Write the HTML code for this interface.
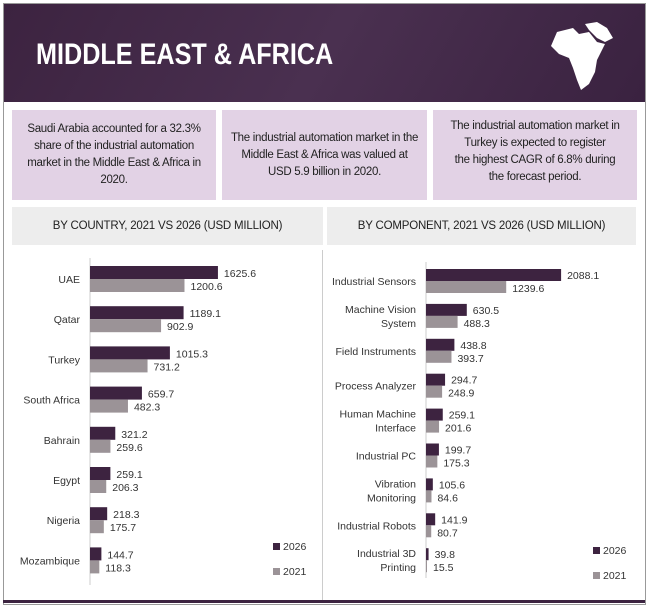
<!DOCTYPE html>
<html><head><meta charset="utf-8"><style>
body{margin:0;width:650px;height:610px;background:#fff;font-family:"Liberation Sans Narrow","Liberation Sans",sans-serif;position:relative;overflow:hidden}
.abs{position:absolute}
.box{position:absolute;top:110px;height:90px;background:#e2d2e5;display:flex;align-items:center;justify-content:center;text-align:center;font-size:11.5px;letter-spacing:-0.3px;line-height:17px;color:#222;white-space:nowrap}
.sub{position:absolute;top:207px;height:38px;background:#ededed;display:flex;align-items:center;justify-content:center;font-size:11.5px;letter-spacing:-0.2px;color:#222}
svg text{font-family:"Liberation Sans Narrow","Liberation Sans",sans-serif;font-size:10.5px;fill:#333}
</style></head><body>
<div class="abs" style="left:3px;top:3px;width:641px;height:600px;border:1px solid #999;"></div>
<div class="abs" style="left:4px;top:4px;width:641px;height:98px;background:linear-gradient(120deg,#3c2340,#4a3050 50%,#3a2240);"></div>
<div class="abs" style="left:36px;top:38px;color:#fff;font-weight:bold;font-size:30px;transform:scaleX(0.84);transform-origin:left;white-space:nowrap">MIDDLE EAST &amp; AFRICA</div>
<svg class="abs" style="left:545px;top:18px" width="72" height="78" viewBox="0 0 72 78"><path d="M12 14 L28 10 L34 16 L44 14 L52 24 L60 26 L56 34 L52 42 L50 54 L44 66 L36 72 L32 62 L28 50 L24 40 L14 36 L6 28 Z" fill="#fff"/><path d="M40 6 L52 4 L62 10 L68 20 L60 24 L52 20 L44 12 Z" fill="#fff"/></svg>
<div class="box" style="left:12px;width:204px">Saudi Arabia accounted for a 32.3%<br>share of the industrial automation<br>market in the Middle East &amp; Africa in<br>2020.</div>
<div class="box" style="left:222px;width:205px">The industrial automation market in the<br>Middle East &amp; Africa was valued at<br>USD 5.9 billion in 2020.</div>
<div class="box" style="left:433px;width:204px;align-items:flex-start;padding-top:8px;height:82px">The industrial automation market in<br>Turkey is expected to register<br>the highest CAGR of 6.8% during<br>the forecast period.</div>
<div class="sub" style="left:12px;width:311px">BY COUNTRY, 2021 VS 2026 (USD MILLION)</div>
<div class="sub" style="left:327px;width:309px">BY COMPONENT, 2021 VS 2026 (USD MILLION)</div>
<div class="abs" style="left:322px;top:250px;width:1px;height:350px;background:#ccc"></div>
<div class="abs" style="left:3px;top:600px;width:642px;height:3px;background:#3c2340"></div>
<svg class="abs" style="left:0;top:0" width="650" height="610" id="chart"></svg>
<script>
const countries=["UAE","Qatar","Turkey","South Africa","Bahrain","Egypt","Nigeria","Mozambique"];
const country2026=[1625.6,1189.1,1015.3,659.7,321.2,259.1,218.3,144.7];
const country2021=[1200.6,902.9,731.2,482.3,259.6,206.3,175.7,118.3];
const components=[["Industrial Sensors"],["Machine Vision","System"],["Field Instruments"],["Process Analyzer"],["Human Machine","Interface"],["Industrial PC"],["Vibration","Monitoring"],["Industrial Robots"],["Industrial 3D","Printing"]];
const comp2026=[2088.1,630.5,438.8,294.7,259.1,199.7,105.6,141.9,39.8];
const comp2021=[1239.6,488.3,393.7,248.9,201.6,175.3,84.6,80.7,15.5];
const svg=document.getElementById('chart');const NS="http://www.w3.org/2000/svg";
function mk(t,a){const e=document.createElementNS(NS,t);for(const k in a)e.setAttribute(k,a[k]);svg.appendChild(e);return e;}
function draw(cfg){
 const x=v=>cfg.x0+v*cfg.scale, y=i=>cfg.y0+i*cfg.step;
 const ax=mk('line',{x1:cfg.x0,x2:cfg.x0,y1:cfg.axTop,y2:cfg.axBot,stroke:'#ccc'});
 
 
 cfg.cats.forEach((c,i)=>{
  const cy=y(i);const lines=Array.isArray(c)?c:[c];
  lines.forEach((l,j)=>{const t=mk('text',{x:cfg.x0-10,y:cy+4+(j-(lines.length-1)/2)*14,'text-anchor':'end'});t.textContent=l;
   
   });
  const b1=mk('rect',{x:cfg.x0,y:cy-cfg.h,width:Math.max(1,x(cfg.a[i])-cfg.x0),height:cfg.h,fill:'#3d2340'});
  
  
  const b2=mk('rect',{x:cfg.x0,y:cy,width:Math.max(1,x(cfg.b[i])-cfg.x0),height:cfg.h,fill:'#9b9397'});
  
  
  const t1=mk('text',{x:x(cfg.a[i])+6,y:cy-2});t1.textContent=cfg.a[i].toFixed(1);
  
  
  const t2=mk('text',{x:x(cfg.b[i])+6,y:cy+11});t2.textContent=cfg.b[i].toFixed(1);
  
  
 });
 [['2026','#3d2340',cfg.lg[1]],['2021','#9b9397',cfg.lg[1]+25]].forEach(([n,c,ly])=>{
  const r=mk('rect',{x:cfg.lg[0],y:ly-7,width:7,height:7,fill:c});
  
  
  const t=mk('text',{x:cfg.lg[0]+10,y:ly});t.textContent=n;
  
  
 });
}
draw({p:'country',cats:countries,a:country2026,b:country2021,x0:90,scale:0.0787,y0:279,step:40.2,h:13,axTop:258,axBot:585,lg:[273,550]});
draw({p:'component',cats:components,a:comp2026,b:comp2021,x0:426,scale:0.0647,y0:281,step:34.9,h:12,axTop:262,axBot:578,lg:[593,554]});
</script>
</body></html>
